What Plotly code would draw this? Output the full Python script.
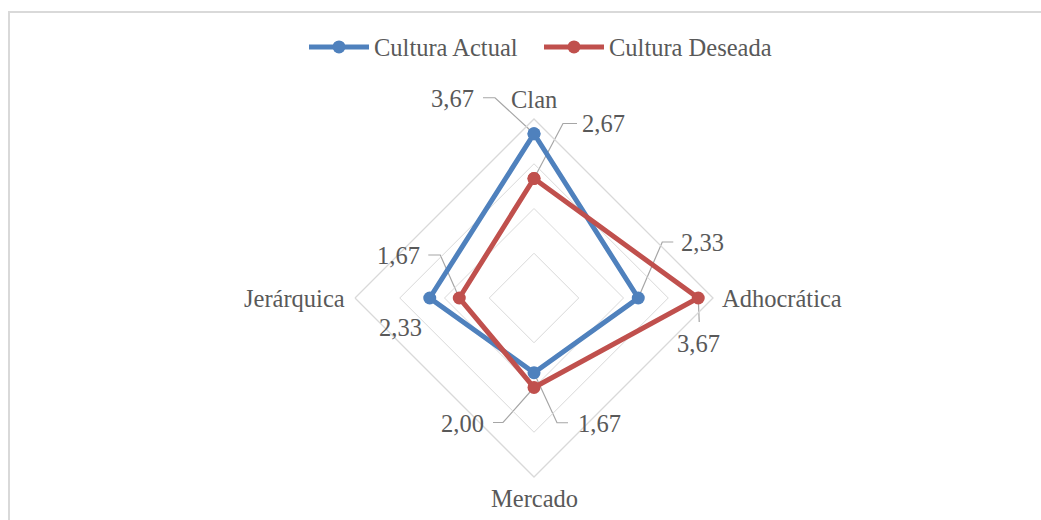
import numpy as np
import plotly.graph_objects as go

# ---- data -------------------------------------------------------------
categories = ["Clan", "Adhocrática", "Mercado", "Jerárquica"]
cultura_actual = [3.67, 2.33, 1.67, 2.33]
cultura_deseada = [2.67, 3.67, 2.00, 1.67]
series_names = ["Cultura Actual", "Cultura Deseada"]
radial_max = 4

# ---- style ------------------------------------------------------------
W, H = 1041, 520
FONT = "Liberation Serif"
FONT_SIZE = 24.5
TEXT_COLOR = "#595959"
GRID_COLOR = "#d9d9d9"
LEADER_COLOR = "#a6a6a6"
COLORS = ["#4f81bd", "#c0504d"]

# polar plot area (pixels)
CX, CY, RADIUS = 534, 298, 179
PX_PER_UNIT = RADIUS / radial_max
dom_x = [(CX - RADIUS) / W, (CX + RADIUS) / W]
dom_y = [1 - (CY + RADIUS) / H, 1 - (CY - RADIUS) / H]

# overlay frame covering the whole page, at the same scale as the radar
frame_x = [-CX / PX_PER_UNIT, (W - CX) / PX_PER_UNIT]
frame_y = [-(H - CY) / PX_PER_UNIT, CY / PX_PER_UNIT]

# data-label placement per series / category, in screen pixels relative to
# the point: leader elbow, leader end, text anchor and horizontal anchor
label_layout = [
    [  # Cultura Actual
        dict(elbow=(-39, -36), end=(-51, -36), text=(-58, -35), anchor="right"),
        dict(elbow=(24, -56), end=(35, -56), text=(41, -56), anchor="left"),
        dict(elbow=(23, 50), end=(34, 50), text=(42, 51), anchor="left"),
        dict(elbow=None, end=None, text=(-29, 29), anchor="center"),
    ],
    [  # Cultura Deseada
        dict(elbow=(29, -55), end=(43, -55), text=(46, -55), anchor="left"),
        dict(elbow=(1, 24), end=(1, 24), text=(0, 45), anchor="center"),
        dict(elbow=(-31, 35), end=(-41, 35), text=(-48, 36), anchor="right"),
        dict(elbow=(-19, -43), end=(-31, -43), text=(-37, -43), anchor="right"),
    ],
]

# category-label offsets (pixels) from the outer vertex of each spoke
cat_layout = [
    dict(shift=(0, -20), anchor="center"),
    dict(shift=(7, 0), anchor="left"),
    dict(shift=(0, 21), anchor="center"),
    dict(shift=(-8, 0), anchor="right"),
]

# clockwise from the top, as on the polar axis
angles = np.deg2rad(90 - 90 * np.arange(len(categories)))


def to_xy(value, i):
    return round(value * np.cos(angles[i]), 6), round(value * np.sin(angles[i]), 6)


fig = go.Figure()

# leader lines (on the overlaid cartesian frame)
lx, ly = [], []
annotations = []
for s, vals in enumerate([cultura_actual, cultura_deseada]):
    for i, v in enumerate(vals):
        px, py = to_xy(v, i)
        lay = label_layout[s][i]
        if lay["elbow"] is not None:
            ex, ey = lay["elbow"]
            nx, ny = lay["end"]
            lx += [px, px + ex / PX_PER_UNIT, px + nx / PX_PER_UNIT, None]
            ly += [py, py - ey / PX_PER_UNIT, py - ny / PX_PER_UNIT, None]
        tx, ty = lay["text"]
        annotations.append(dict(
            x=px, y=py, xref="x", yref="y",
            xshift=tx, yshift=-ty,
            text=f"{v:.2f}".replace(".", ","),
            showarrow=False, xanchor=lay["anchor"], yanchor="middle",
            font=dict(family=FONT, size=FONT_SIZE, color=TEXT_COLOR),
        ))

fig.add_trace(go.Scatter(
    x=lx, y=ly, mode="lines", showlegend=False, hoverinfo="skip",
    line=dict(color=LEADER_COLOR, width=1.2),
    xaxis="x", yaxis="y",
))

# radar series
for name, vals, color in zip(series_names, [cultura_actual, cultura_deseada], COLORS):
    fig.add_trace(go.Scatterpolar(
        r=vals + vals[:1],
        theta=categories + categories[:1],
        mode="lines+markers",
        name=name,
        line=dict(color=color, width=5),
        marker=dict(color=color, size=13),
        cliponaxis=False,
    ))

for i, cat in enumerate(categories):
    vx, vy = to_xy(radial_max, i)
    sx, sy = cat_layout[i]["shift"]
    annotations.append(dict(
        x=vx, y=vy, xref="x", yref="y", xshift=sx, yshift=-sy,
        text=cat, showarrow=False, xanchor=cat_layout[i]["anchor"], yanchor="middle",
        font=dict(family=FONT, size=FONT_SIZE, color=TEXT_COLOR),
    ))

fig.update_layout(
    width=W, height=H,
    margin=dict(l=0, r=0, t=0, b=0),
    paper_bgcolor="white",
    plot_bgcolor="rgba(0,0,0,0)",
    font=dict(family=FONT, size=FONT_SIZE, color=TEXT_COLOR),
    polar=dict(
        domain=dict(x=dom_x, y=dom_y),
        bgcolor="rgba(0,0,0,0)",
        gridshape="linear",
        radialaxis=dict(range=[0, radial_max], dtick=1, showticklabels=False,
                        ticks="", showline=False, gridcolor=GRID_COLOR, gridwidth=1.3),
        angularaxis=dict(type="category", categoryarray=categories, rotation=90,
                         direction="clockwise", showgrid=False, showticklabels=False,
                         ticks="", showline=True, linecolor=GRID_COLOR, linewidth=1.3),
    ),
    xaxis=dict(domain=[0, 1], range=frame_x, visible=False, fixedrange=True),
    yaxis=dict(domain=[0, 1], range=frame_y, visible=False, fixedrange=True),
    legend=dict(orientation="h", x=304 / W, xanchor="left", y=1 - 47 / H, yanchor="middle",
                font=dict(family=FONT, size=FONT_SIZE, color=TEXT_COLOR),
                itemwidth=60, entrywidth=160, bgcolor="rgba(0,0,0,0)"),
    annotations=annotations,
    shapes=[dict(type="rect", xref="paper", yref="paper",
                 x0=9 / W, x1=1.02, y0=-0.02, y1=1 - 12 / H,
                 line=dict(color=GRID_COLOR, width=2), layer="below")],
)

fig.write_html("out.html")
